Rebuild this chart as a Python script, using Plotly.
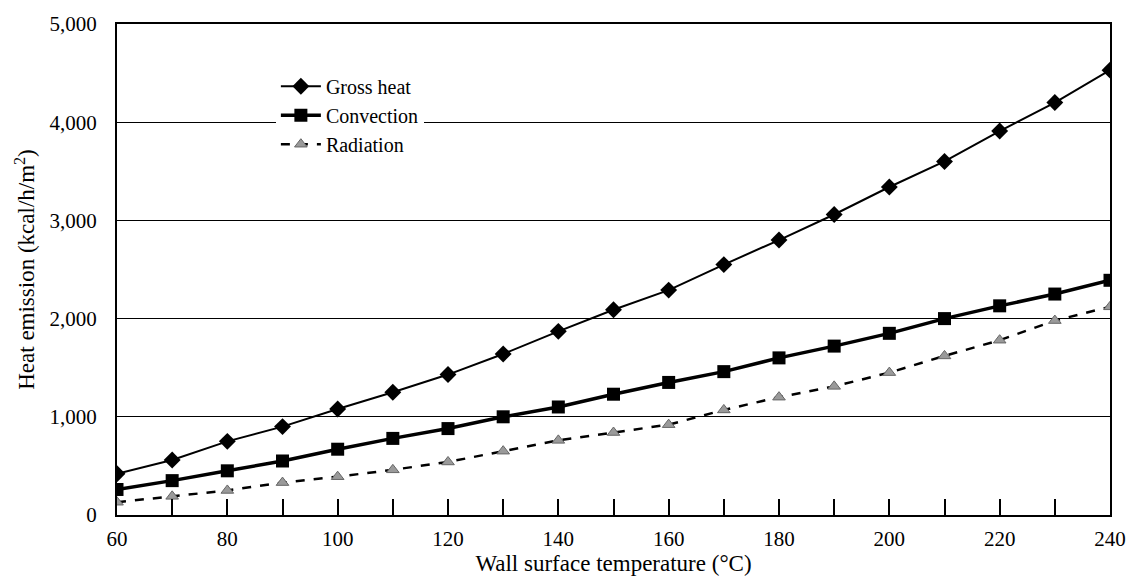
import plotly.graph_objects as go

temps = [60, 70, 80, 90, 100, 110, 120, 130, 140, 150, 160, 170, 180, 190, 200, 210, 220, 230, 240]
gross_heat = [420, 560, 750, 900, 1080, 1250, 1430, 1640, 1870, 2090, 2290, 2550, 2800, 3060, 3340, 3600, 3910, 4200, 4530]
convection = [260, 350, 450, 550, 670, 780, 880, 1000, 1100, 1230, 1350, 1460, 1600, 1720, 1850, 2000, 2130, 2250, 2390]
radiation = [130, 190, 250, 330, 390, 460, 540, 650, 760, 840, 920, 1070, 1200, 1310, 1450, 1620, 1780, 1980, 2120]

y_ticks = [0, 1000, 2000, 3000, 4000, 5000]
y_labels = ["0", "1,000", "2,000", "3,000", "4,000", "5,000"]
x_ticks = [60, 80, 100, 120, 140, 160, 180, 200, 220, 240]

font_family = "Liberation Serif"

fig = go.Figure()
fig.add_trace(go.Scatter(
    x=temps, y=gross_heat, name="Gross heat", mode="lines+markers",
    line=dict(color="black", width=2),
    marker=dict(symbol="diamond", size=13, color="black"),
))
fig.add_trace(go.Scatter(
    x=temps, y=convection, name="Convection", mode="lines+markers",
    line=dict(color="black", width=3.5),
    marker=dict(symbol="square", size=13, color="black"),
))
fig.add_trace(go.Scatter(
    x=temps, y=radiation, name="Radiation", mode="lines+markers",
    line=dict(color="black", width=2.5, dash="dash"),
    marker=dict(symbol="triangle-up", size=11, color="#9a9a9a",
                line=dict(color="#666666", width=1)),
))

fig.update_layout(
    width=1138, height=583,
    margin=dict(l=117, r=25, t=22, b=66),
    paper_bgcolor="white", plot_bgcolor="white",
    font=dict(family=font_family, color="black", size=20),
    showlegend=True,
    legend=dict(
        x=0.16, y=0.913, xanchor="left", yanchor="top",
        bgcolor="white", borderwidth=0,
        font=dict(family=font_family, size=20, color="black"),
        itemwidth=40, tracegroupgap=0,
    ),
    xaxis=dict(
        range=[60, 240], tickvals=x_ticks,
        ticks="inside", ticklen=16, tickcolor="black", tickwidth=1.5,
        minor=dict(dtick=10, ticks="inside", ticklen=16, tickcolor="black", tickwidth=1.5),
        showline=True, linecolor="black", linewidth=2, mirror=True,
        showgrid=False, zeroline=False,
        ticklabelstandoff=4,
        title=dict(text="Wall surface temperature (°C)", font=dict(size=23), standoff=4),
        tickfont=dict(size=21),
    ),
    yaxis=dict(
        range=[0, 5000], tickvals=y_ticks, ticktext=y_labels,
        ticks="", showline=True, linecolor="black", linewidth=2, mirror=True,
        showgrid=True, gridcolor="black", gridwidth=1.3, zeroline=False,
        ticklabelstandoff=14,
        title=dict(text="Heat emission (kcal/h/m<sup>2</sup>)", font=dict(size=23), standoff=8),
        tickfont=dict(size=21),
    ),
)

fig.write_html("out.html")
